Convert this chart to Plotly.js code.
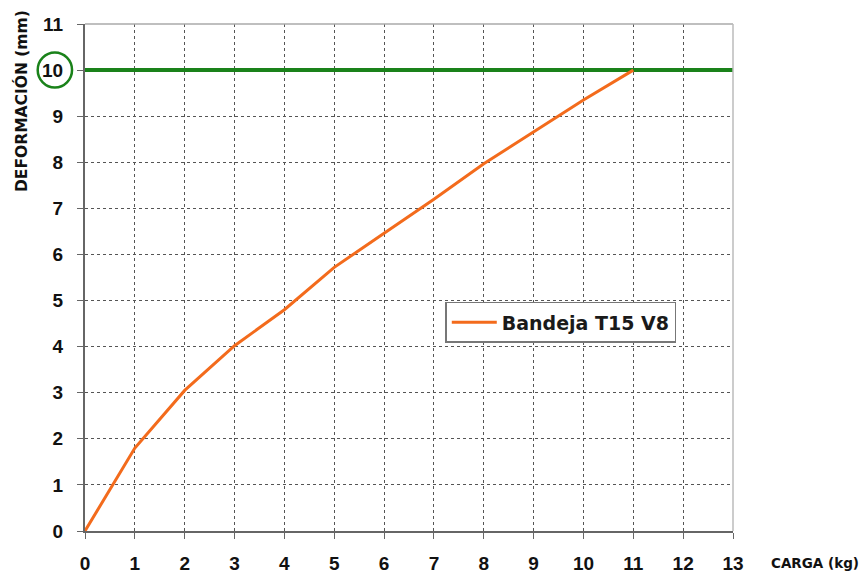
<!DOCTYPE html>
<html>
<head>
<meta charset="utf-8">
<script src="https://cdn.plot.ly/plotly-3.0.1.min.js"></script>
<style>html,body{margin:0;padding:0;background:#fff;}#chart{width:866px;height:574px;}</style>
</head>
<body>
<div id="chart"></div>
<script>
const carga = [0, 1, 2, 3, 4, 5, 6, 7, 8, 9, 10, 11];
const deformacion = [0, 1.8, 3.05, 4.02, 4.8, 5.72, 6.46, 7.2, 7.97, 8.66, 9.35, 10];
const limiteX = [0, 13];
const limiteY = [10, 10];
const xTicks = [0,1,2,3,4,5,6,7,8,9,10,11,12,13];
const yTicks = [0,1,2,3,4,5,6,7,8,9,10,11];
const serieNombre = 'Bandeja T15 V8';

const traces = [
  {x: limiteX, y: limiteY, mode: 'lines', line: {color: '#1a821a', width: 4}, showlegend: false, hoverinfo: 'skip'},
  {x: carga, y: deformacion, mode: 'lines', name: serieNombre, line: {color: '#f36b1c', width: 3}}
];

const tickFont = {family: 'Liberation Sans, Arial, sans-serif', size: 19, color: '#111', weight: 'bold'};

const layout = {
  width: 866, height: 574,
  margin: {l: 85, r: 133, t: 24, b: 43},
  paper_bgcolor: '#fff', plot_bgcolor: '#fff',
  showlegend: true,
  legend: {x: 0.556, y: 0.452, xanchor: 'left', yanchor: 'top', bgcolor: '#fff', bordercolor: '#777', borderwidth: 1.5,
    itemwidth: 45,
    font: {family: 'DejaVu Sans, sans-serif', size: 19, color: '#1a1a1a', weight: 'bold'}},
  xaxis: {range: [0, 13], tickvals: xTicks, ticktext: xTicks.map(String), showgrid: true, gridcolor: '#555', griddash: 'dot', gridwidth: 1,
    showline: true, linecolor: '#666', linewidth: 2, ticks: 'outside', ticklen: 6, tickcolor: '#666', zeroline: false,
    ticklabelstandoff: 8, tickfont: tickFont, fixedrange: true},
  yaxis: {range: [0, 11], tickvals: yTicks, ticktext: yTicks.map(String), showgrid: true, gridcolor: '#555', griddash: 'dot', gridwidth: 1,
    showline: true, linecolor: '#666', linewidth: 2, ticks: 'outside', ticklen: 6, tickcolor: '#666', zeroline: false,
    ticklabelstandoff: 10, tickfont: tickFont, fixedrange: true},
  shapes: [
    {type: 'line', xref: 'paper', yref: 'paper', x0: 0, x1: 1, y0: 1, y1: 1, line: {color: '#aaa', width: 1.5}},
    {type: 'line', xref: 'paper', yref: 'paper', x0: 1, x1: 1, y0: 0, y1: 1, line: {color: '#bbb', width: 1.5}},
    {type: 'circle', xref: 'paper', yref: 'y', x0: -0.073, x1: -0.020, y0: 9.62, y1: 10.38, line: {color: '#1a821a', width: 2.5}}
  ],
  annotations: [
    {text: 'CARGA (kg)', xref: 'paper', yref: 'paper', x: 1.126, y: 0, yshift: -32, xanchor: 'center', yanchor: 'middle', showarrow: false,
      font: {family: 'DejaVu Sans, sans-serif', size: 13.5, color: '#111', weight: 'bold'}},
    {text: 'DEFORMACIÓN (mm)', xref: 'paper', yref: 'paper', x: 0, xshift: -64, y: 1, yshift: 16, xanchor: 'center', yanchor: 'top', textangle: -90, showarrow: false,
      font: {family: 'DejaVu Sans, sans-serif', size: 15.5, color: '#111', weight: 'bold'}}
  ]
};

Plotly.newPlot('chart', traces, layout, {displayModeBar: false, staticPlot: true});
</script>
</body>
</html>
